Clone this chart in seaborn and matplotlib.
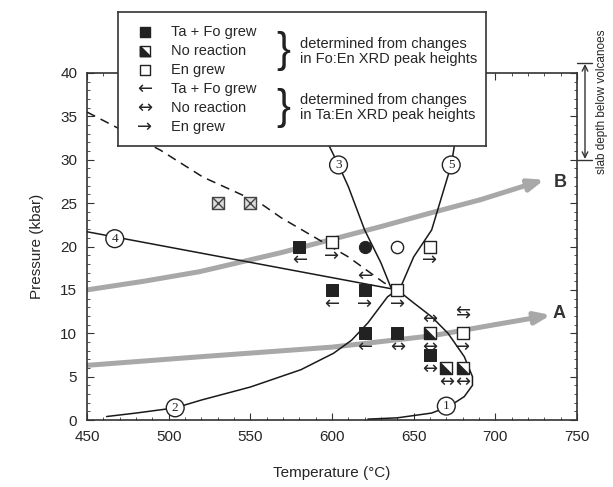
import matplotlib
matplotlib.use("Agg")
import matplotlib.pyplot as plt
import matplotlib.path as mpath
import seaborn as sns
import pandas as pd

sns.set_style("ticks")
plt.rcParams['font.family'] = ['Liberation Sans', 'DejaVu Sans']

# reaction curves (T in C, P in kbar)
c1_T = [640, 650, 661, 671, 681, 686, 686, 681, 672, 661, 640, 622]
c1_P = [15, 13.5, 11.9, 10, 7.3, 5, 4, 2.7, 1.6, 0.8, 0.25, 0.1]
c2_T = [462, 480, 504, 520, 550, 581, 601, 612, 622, 634, 640]
c2_P = [0.4, 0.8, 1.4, 2.3, 3.8, 5.8, 7.7, 9.2, 11.2, 14.2, 15]
c3_T = [640, 636, 630, 620, 610, 604, 598, 592]
c3_P = [15, 15.3, 18.1, 21.9, 26.9, 29.4, 31.7, 34]
c5_T = [640, 642, 650, 661, 669, 673, 675, 677]
c5_P = [15, 15.3, 18.8, 21.9, 26.9, 29.4, 31.7, 34]
c4_T = [450, 640]
c4_P = [21.7, 15]
dash_T = [450, 495, 521, 556, 569, 610, 632, 640]
dash_P = [35.5, 31.1, 28, 25, 23.3, 18.8, 15.8, 15]

# P-T paths A and B
pathA_T = [450, 520, 600, 661, 700, 734]
pathA_P = [6.3, 7.3, 8.4, 9.7, 11.0, 12.1]
pathB_T = [450, 485, 519, 569, 630, 661, 691, 730]
pathB_P = [15, 16, 17.1, 19.3, 22.3, 23.9, 25.4, 27.7]

# experiments
fill_T = [580, 600, 620, 620, 640, 660]
fill_P = [20, 15, 15, 10, 10, 7.5]
open_T = [600, 660, 640, 680]
open_P = [20.5, 20, 15, 10]
half_T = [660, 670, 680]
half_P = [10, 6, 6]
cross_T = [530, 550]
cross_P = [25, 25]
fcirc_T, fcirc_P = [620], [20]
ocirc_T, ocirc_P = [640], [20]

# Ta:En arrows (T, P, symbol, offset)
arr_T = [580, 600, 660, 600, 620, 620, 640, 620, 640, 660, 660, 680, 680, 660, 670, 680]
arr_P = [20, 20.5, 20, 15, 15, 15, 15, 10, 10, 10, 10, 10, 10, 7.5, 6, 6]
arr_s = ['←', '→', '→', '←', '→', '←', '→', '←', '↔', '↔', '↔', '→', '⇆', '↔', '↔', '↔']
arr_dy = [-1, -1, -1, -1, -1, 1, -1, -1, -1, -1, 1, -1, 1.5, -1, -1, -1]

labels_num = ['1', '2', '3', '4', '5']
labels_T = [670, 504, 604, 467, 673]
labels_P = [1.6, 1.4, 29.4, 20.9, 29.4]

fig = plt.figure(figsize=(6.13, 4.87), dpi=100)
ax = fig.add_axes([87/613, 67/487, 490/613, 347/487])

for T, P, ls in [(c1_T, c1_P, '-'), (c2_T, c2_P, '-'), (c3_T, c3_P, '-'),
                 (c5_T, c5_P, '-'), (c4_T, c4_P, '-'), (dash_T, dash_P, (0, (6, 4)))]:
    sns.lineplot(x=T, y=P, sort=False, estimator=None, color='#1a1a1a',
                 lw=1.1, linestyle=ls, ax=ax, zorder=3)

grey = '#a8a8a8'
for T, P in [(pathA_T, pathA_P), (pathB_T, pathB_P)]:
    sns.lineplot(x=T[:-1], y=P[:-1], sort=False, estimator=None, color=grey,
                 lw=3.6, ax=ax, zorder=2)
    ax.annotate('', xy=(T[-1], P[-1]), xytext=(T[-2], P[-2]),
                arrowprops=dict(arrowstyle='-|>,head_length=0.9,head_width=0.35',
                                color=grey, lw=3.6, shrinkA=0, shrinkB=0), zorder=2)
ax.text(739, 12.3, 'A', fontsize=13, fontweight='bold', color='#333333', ha='center', va='center')
ax.text(739.5, 27.4, 'B', fontsize=13, fontweight='bold', color='#333333', ha='center', va='center')

ms = 78
sns.scatterplot(x=fill_T, y=fill_P, marker='s', s=ms, color='#222222', edgecolor='#222222', ax=ax, zorder=5)
sns.scatterplot(x=open_T, y=open_P, marker='s', s=ms, color='white', edgecolor='#222222', linewidth=1, ax=ax, zorder=5)
sns.scatterplot(x=half_T, y=half_P, marker='s', s=ms, color='white', edgecolor='#222222', linewidth=1, ax=ax, zorder=5)
tri = mpath.Path([(-1, 1), (-1, -1), (1, -1), (-1, 1)])
sns.scatterplot(x=half_T, y=half_P, marker=tri, s=ms, color='#222222', edgecolor='#222222', linewidth=0.5, ax=ax, zorder=6)
sns.scatterplot(x=cross_T, y=cross_P, marker='s', s=ms, color='#dddddd', edgecolor='#444444', linewidth=1, ax=ax, zorder=5)
sns.scatterplot(x=cross_T, y=cross_P, marker='x', s=ms, color='#444444', linewidth=1, ax=ax, zorder=6)
sns.scatterplot(x=fcirc_T, y=fcirc_P, marker='o', s=ms, color='#222222', edgecolor='#222222', ax=ax, zorder=5)
sns.scatterplot(x=ocirc_T, y=ocirc_P, marker='o', s=ms, color='white', edgecolor='#222222', linewidth=1, ax=ax, zorder=5)

for T, P, s, dy in zip(arr_T, arr_P, arr_s, arr_dy):
    ax.annotate(s, (T, P), xytext=(0, 10 * dy), textcoords='offset points',
                ha='center', va='center', fontsize=13, family='DejaVu Sans', zorder=6)

for n, T, P in zip(labels_num, labels_T, labels_P):
    ax.text(T, P, n, ha='center', va='center', fontsize=9.5, family='Liberation Serif',
            zorder=7, bbox=dict(boxstyle='circle,pad=0.22', fc='white', ec='#222222', lw=1))

ax.set_xlim(450, 750)
ax.set_ylim(0, 40)
ax.set_xticks(range(450, 751, 50))
ax.set_yticks(range(0, 41, 5))
ax.set_xticks(range(450, 751, 10), minor=True)
ax.set_yticks(range(0, 41, 1), minor=True)
ax.tick_params(which='both', direction='in', top=True, right=True, labelsize=11, color='#333333')
ax.tick_params(which='major', length=5, pad=7)
ax.tick_params(which='minor', length=2.5)
for sp in ax.spines.values():
    sp.set_linewidth(1.2)
    sp.set_color('#333333')
ax.set_xlabel('Temperature (°C)', fontsize=11, labelpad=16)
ax.set_ylabel('Pressure (kbar)', fontsize=11, labelpad=12)

# key box
lg = fig.add_axes([118/613, 1 - 146/487, 368/613, 134/487], zorder=10)
lg.set_xlim(0, 368)
lg.set_ylim(134, 0)
lg.set_xticks([])
lg.set_yticks([])
for sp in lg.spines.values():
    sp.set_linewidth(1.2)
    sp.set_color('#333333')
key_y = [20, 39, 58, 77, 96, 115]
key_txt = ['Ta + Fo grew', 'No reaction', 'En grew', 'Ta + Fo grew', 'No reaction', 'En grew']
lg.scatter([27], [key_y[0]], marker='s', s=55, color='#222222')
lg.scatter([27], [key_y[1]], marker='s', s=55, color='white', edgecolor='#222222', linewidth=1)
lg.scatter([27], [key_y[1]], marker=tri, s=55, color='#222222')
lg.scatter([27], [key_y[2]], marker='s', s=55, color='white', edgecolor='#222222', linewidth=1)
for y, s in zip(key_y[3:], ['←', '↔', '→']):
    lg.text(27, y, s, ha='center', va='center', fontsize=13, family='DejaVu Sans')
for y, t in zip(key_y, key_txt):
    lg.text(53, y, t, ha='left', va='center', fontsize=10.5)
for y, t in [(39.5, 'determined from changes\nin Fo:En XRD peak heights'),
             (95.5, 'determined from changes\nin Ta:En XRD peak heights')]:
    lg.text(165, y, '}', ha='center', va='center', fontsize=30, fontweight='light', color='#222222')
    lg.text(182, y, t, ha='left', va='center', fontsize=10.5, linespacing=1.1)

# slab depth marker
fig.add_artist(plt.Line2D([577/613, 592/613], [1 - 63/487] * 2, color='#333333', lw=1))
fig.add_artist(plt.Line2D([577/613, 592/613], [1 - 160/487] * 2, color='#333333', lw=1))
ax.annotate('', xy=(585/613, 1 - 64/487), xytext=(585/613, 1 - 159/487),
            xycoords='figure fraction', textcoords='figure fraction',
            arrowprops=dict(arrowstyle='<->', color='#333333', lw=1, shrinkA=0, shrinkB=0))
fig.text(602/613, 1 - 102/487, 'slab depth below volcanoes', rotation=90,
         ha='center', va='center', fontsize=8.5)

fig.savefig('out.png', dpi=100)
